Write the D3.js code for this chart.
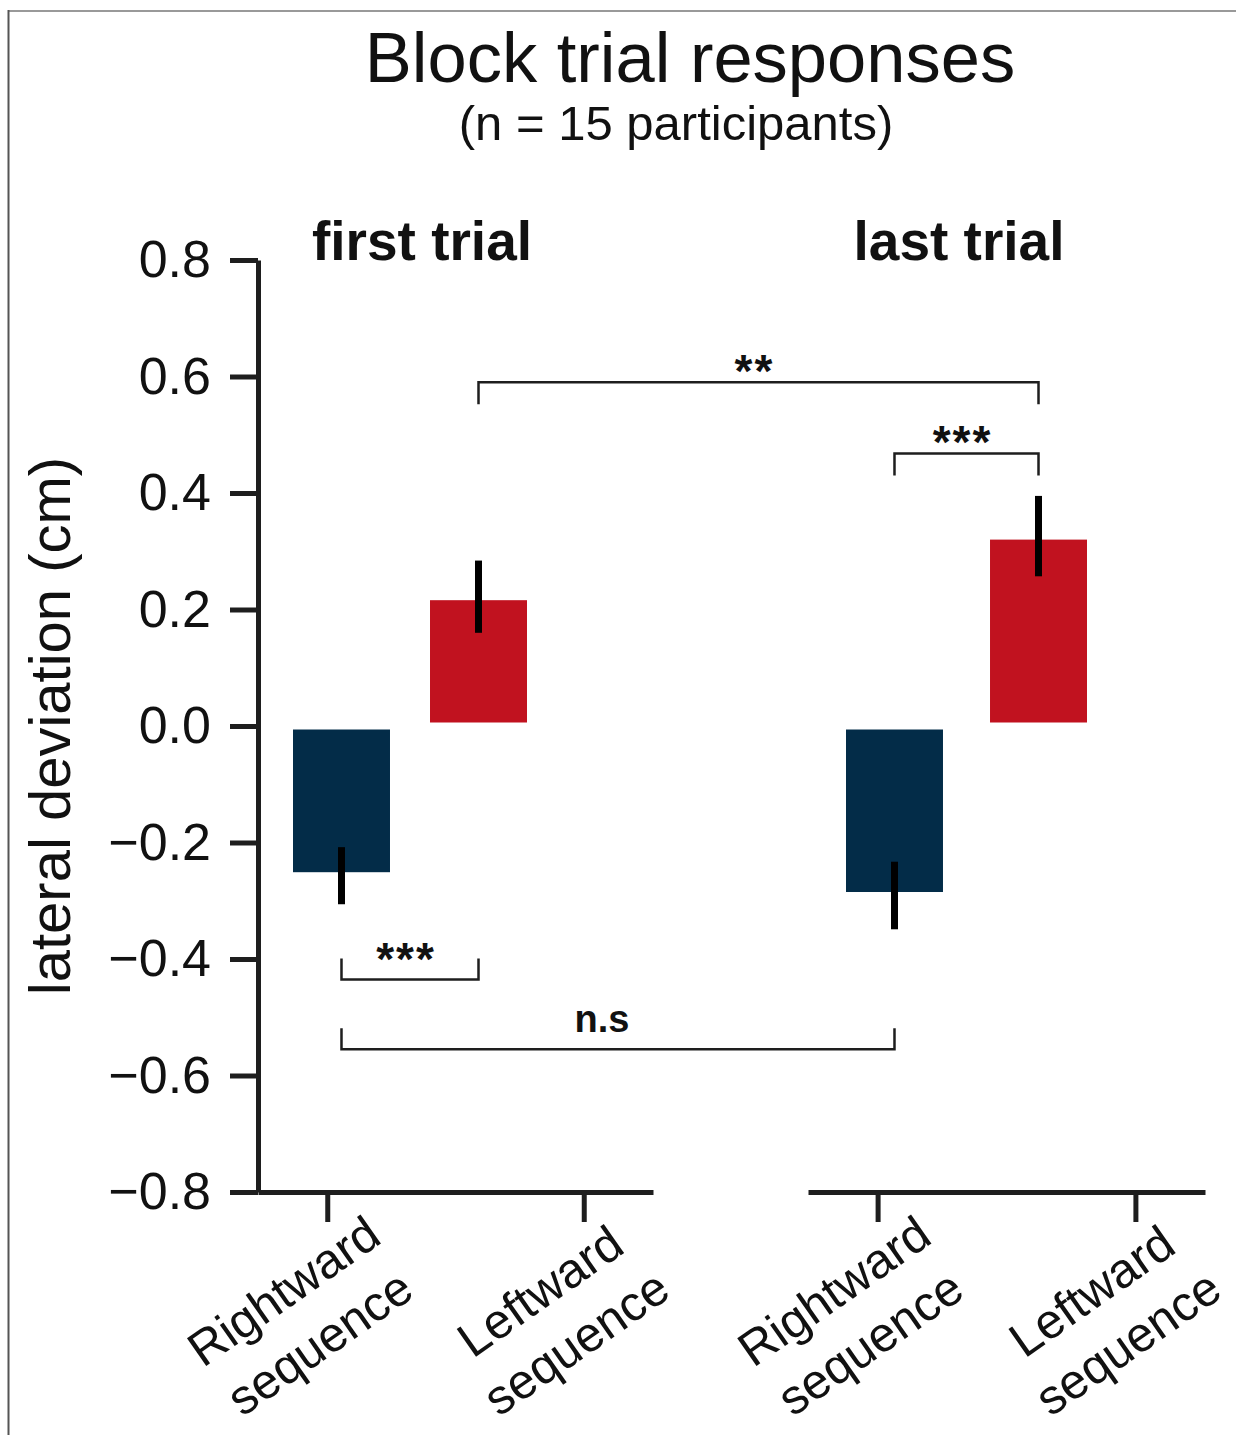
<!DOCTYPE html>
<html>
<head>
<meta charset="utf-8">
<script src="https://cdn.jsdelivr.net/npm/d3@7"></script>
<style>
  body { margin: 0; background: #fff; }
  svg { display: block; }
  text { font-family: "Liberation Sans", Arial, sans-serif; }
</style>
</head>
<body>
<div id="chart"></div>
<script>
const conditions = ['Rightward', 'Leftward'];
const xLabelLines = [['Rightward', 'sequence'], ['Leftward', 'sequence']];
const trialNames = ['first trial', 'last trial'];
const firstMeans = [-0.257, 0.222];
const firstErrors = [0.049, 0.062];
const lastMeans = [-0.291, 0.326];
const lastErrors = [0.058, 0.069];
const yTicks = [-0.8, -0.6, -0.4, -0.2, 0, 0.2, 0.4, 0.6, 0.8];
// significance brackets: [panel, condition] ends, level in cm
const brackets = [
  { a: [0, 0], b: [0, 1], level: -0.435, legs: 'up', label: '***' },
  { a: [0, 0], b: [1, 0], level: -0.555, legs: 'up', label: 'n.s' },
  { a: [0, 1], b: [1, 1], level: 0.590, legs: 'down', label: '**' },
  { a: [1, 0], b: [1, 1], level: 0.468, legs: 'down', label: '***' },
];
const colors = ['#032c48', '#c1121f'];

const width = 1236, height = 1435;
const ink = '#1e1e1e';
const axisY = 1192;

const svg = d3.select('#chart').append('svg')
  .attr('width', width).attr('height', height);

// image frame
svg.append('line').attr('x1', 8).attr('x2', width).attr('y1', 11).attr('y2', 11)
  .attr('stroke', '#999').attr('stroke-width', 2);
svg.append('line').attr('x1', 8.5).attr('x2', 8.5).attr('y1', 10).attr('y2', height)
  .attr('stroke', '#555').attr('stroke-width', 2);

const y = d3.scaleLinear().domain([-0.8, 0.8]).range([axisY, 260]);

const panels = [
  {
    name: trialNames[0], means: firstMeans, errors: firstErrors, titleX: 422,
    bar: d3.scaleBand().domain(conditions).range([289.5, 530.5]).paddingInner(0.241),
    tick: d3.scalePoint().domain(conditions).range([258, 653]).padding(0.27),
  },
  {
    name: trialNames[1], means: lastMeans, errors: lastErrors, titleX: 959,
    bar: d3.scaleBand().domain(conditions).range([842.5, 1090.5]).paddingInner(0.278),
    tick: d3.scalePoint().domain(conditions).range([808, 1205]).padding(0.27),
  },
];

// title
svg.append('text').attr('x', 690).attr('y', 82).attr('text-anchor', 'middle')
  .attr('font-size', 70.5).attr('fill', '#111').text('Block trial responses');
svg.append('text').attr('x', 676).attr('y', 140).attr('text-anchor', 'middle')
  .attr('font-size', 49).attr('fill', '#111').text('(n = 15 participants)');

// y axis
const yAxis = svg.append('g').attr('transform', 'translate(258,0)')
  .call(d3.axisLeft(y).tickValues(yTicks).tickFormat(d3.format('.1f'))
    .tickSize(28).tickSizeOuter(0).tickPadding(19));
yAxis.select('.domain').attr('stroke', ink).attr('stroke-width', 5);
yAxis.selectAll('.tick line').attr('stroke', ink).attr('stroke-width', 5);
yAxis.selectAll('.tick text').attr('font-size', 52).attr('fill', '#111')
  .attr('font-family', '"Liberation Sans", Arial, sans-serif');

svg.append('text')
  .attr('transform', `translate(70,${y(0)}) rotate(-90)`)
  .attr('text-anchor', 'middle').attr('font-size', 58).attr('fill', '#111')
  .text('lateral deviation (cm)');

panels.forEach(p => {
  const xAxis = svg.append('g').attr('transform', `translate(0,${axisY})`)
    .call(d3.axisBottom(p.tick).tickSize(30).tickSizeOuter(0).tickFormat(''));
  xAxis.select('.domain').attr('stroke', ink).attr('stroke-width', 5);
  xAxis.selectAll('.tick line').attr('stroke', ink).attr('stroke-width', 5);

  const labels = svg.append('g').selectAll('text').data(conditions).join('text')
    .attr('transform', c => `translate(${p.tick(c) - 34},${axisY + 113}) rotate(-35)`)
    .attr('text-anchor', 'middle').attr('font-size', 49).attr('fill', '#111');
  labels.selectAll('tspan').data((c, i) => xLabelLines[i]).join('tspan')
    .attr('x', 0).attr('y', (d, j) => j * 63).text(d => d);

  const g = svg.append('g');
  g.selectAll('rect').data(conditions).join('rect')
    .attr('x', c => p.bar(c))
    .attr('width', p.bar.bandwidth())
    .attr('y', (c, i) => y(Math.max(0, p.means[i])))
    .attr('height', (c, i) => Math.abs(y(p.means[i]) - y(0)))
    .attr('fill', (c, i) => colors[i])
    .attr('stroke', '#fff').attr('stroke-width', 7);

  g.selectAll('line.err').data(conditions).join('line')
    .attr('class', 'err')
    .attr('x1', c => p.bar(c) + p.bar.bandwidth() / 2)
    .attr('x2', c => p.bar(c) + p.bar.bandwidth() / 2)
    .attr('y1', (c, i) => y(p.means[i] - p.errors[i]))
    .attr('y2', (c, i) => y(p.means[i] + p.errors[i]))
    .attr('stroke', '#000').attr('stroke-width', 7);

  svg.append('text').attr('x', p.titleX).attr('y', 260)
    .attr('text-anchor', 'middle').attr('font-size', 55).attr('font-weight', 'bold')
    .attr('fill', '#111').text(p.name);
});

// significance brackets
const cx = ([pi, ci]) => panels[pi].bar(conditions[ci]) + panels[pi].bar.bandwidth() / 2;
brackets.forEach(b => {
  const x1 = cx(b.a), x2 = cx(b.b), yy = y(b.level);
  const leg = b.legs === 'down' ? 22 : -21;
  svg.append('path')
    .attr('d', `M${x1},${yy + leg}V${yy}H${x2}V${yy + leg}`)
    .attr('fill', 'none').attr('stroke', ink).attr('stroke-width', 2.5);
  const stars = /^\*+$/.test(b.label);
  const fs = stars ? 46 : 38;
  const base = stars ? yy - (b.legs === 'up' ? 30 : 21) + 0.56 * fs : yy - 17;
  svg.append('text').attr('x', (x1 + x2) / 2 - (stars ? 4 : 16)).attr('y', base)
    .attr('text-anchor', 'middle').attr('font-size', fs).attr('font-weight', 'bold')
    .attr('letter-spacing', stars ? 2 : 0).attr('fill', '#111').text(b.label);
});
</script>
</body>
</html>
